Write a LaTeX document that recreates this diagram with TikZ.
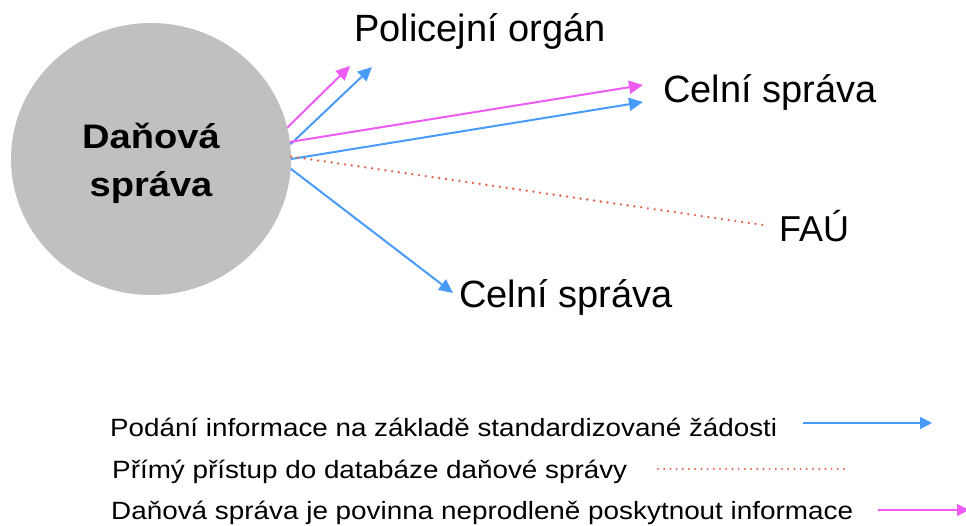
\documentclass[tikz,border=0pt]{standalone}
\usepackage{fontspec}
\setmainfont{Liberation Sans}
\usetikzlibrary{arrows.meta,shapes.geometric}
\definecolor{cblue}{RGB}{72,155,248}
\definecolor{cmag}{RGB}{236,92,242}
\definecolor{cred}{RGB}{230,96,76}
\definecolor{cgray}{RGB}{192,192,192}
\newcommand{\fitw}[2]{\resizebox{#1}{\height}{#2}}
\begin{document}
\begin{tikzpicture}[x=1pt,y=-1pt,
  big/.style={font=\fontsize{38}{44}\selectfont, inner sep=0pt, anchor=base},
  boldtxt/.style={font=\fontsize{34}{40}\selectfont\bfseries, inner sep=0pt, anchor=base},
  leg/.style={font=\fontsize{25}{30}\selectfont, inner sep=0pt, anchor=base west},
  barrow/.style={draw=cblue, line width=2pt, -{Triangle[length=14pt,width=13pt]}},
  marrow/.style={draw=cmag, line width=2pt, -{Triangle[length=14pt,width=13pt]}},
  dotline/.style={draw=cred, line width=2.6pt, line cap=round, dash pattern=on 0pt off 6.8pt},
  lbarrow/.style={draw=cblue, line width=1.5pt, -{Triangle[length=12pt,width=12pt]}},
  lmarrow/.style={draw=cmag, line width=1.5pt, -{Triangle[length=12pt,width=12pt]}},
  ldotline/.style={draw=cred, line width=2.2pt, line cap=round, dash pattern=on 0pt off 6.2pt}
]
\useasboundingbox (0,0) rectangle (966,526);

% central circle
\node (ds) [ellipse, fill=cgray, inner sep=0pt, minimum width=280pt, minimum height=272pt] at (151,159) {};
\node (dt1) [boldtxt] at (151,149) {\scalebox{1.12}[1]{Daňová}};
\node (dt2) [boldtxt] at (151,197) {\scalebox{1.12}[1]{správa}};

% targets
\node (pol)  [big] at (480,42)  {Policejní orgán};
\node (cel1) [big] at (770,103) {Celní správa};
\node (fau)  [big, font=\fontsize{36}{42}\selectfont] at (814,242) {FAÚ};
\node (cel2) [big] at (566,308) {Celní správa};

% connector ends
\coordinate (tpm) at (350,66);
\coordinate (tpb) at (372,67);
\coordinate (tcm) at (643,85);
\coordinate (tcb) at (643,102);
\coordinate (tfd) at (763,225);
\coordinate (tc2) at (453,293);

\draw[marrow] (ds.13) -- (tpm);
\draw[barrow] (ds.6) -- (tpb);
\draw[marrow] (ds.7) -- (tcm);
\draw[barrow] (ds.0) -- (tcb);
\draw[dotline] (ds.1) -- (tfd);
\draw[barrow] (ds.-4.5) -- (tc2);

% legend
\node (lg1) [leg] at (110,436) {\fitw{667pt}{Podání informace na základě standardizované žádosti}};
\node (lg2) [leg] at (112,478) {\fitw{515pt}{Přímý přístup do databáze daňové správy}};
\node (lg3) [leg] at (111,519) {\fitw{742pt}{Daňová správa je povinna neprodleně poskytnout informace}};

\coordinate (l1a) at (803,423);
\coordinate (l1b) at (932,423);
\coordinate (l2a) at (658,469);
\coordinate (l2b) at (844,469);
\coordinate (l3a) at (878,510);
\coordinate (l3b) at (969,510);
\draw[lbarrow] (l1a) -- (l1b);
\draw[ldotline] (l2a) -- (l2b);
\draw[lmarrow] (l3a) -- (l3b);
\end{tikzpicture}
\end{document}
